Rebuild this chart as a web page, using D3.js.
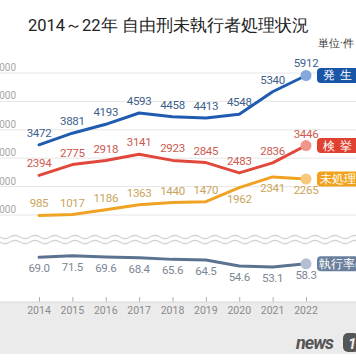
<!DOCTYPE html>
<html><head><meta charset="utf-8">
<script src="https://cdn.jsdelivr.net/npm/d3@7"></script>
<style>
html,body{margin:0;padding:0;background:#fff;}
svg{display:block;}
text{font-family:Roboto,"Noto Sans",sans-serif;}
</style></head>
<body>
<script>
const years = ["2014","2015","2016","2017","2018","2019","2020","2021","2022"];
const occurred = [3472,3881,4193,4593,4458,4413,4548,5340,5912];
const arrested = [2394,2775,2918,3141,2923,2845,2483,2836,3446];
const unresolved = [985,1017,1186,1363,1440,1470,1962,2341,2265];
const execRate = [69.0,71.5,69.6,68.4,65.6,64.5,54.6,53.1,58.3];
const yTicks = [1000,2000,3000,4000,5000,6000];
const seriesNames = ["発生","検挙","未処理","執行率(%)"];

const W=356,H=364;
const svg=d3.select("body").append("svg").attr("width",W).attr("height",H);

// backgrounds
svg.append("rect").attr("x",0).attr("y",0).attr("width",W).attr("height",H).attr("fill","#fff");
svg.append("rect").attr("x",0).attr("y",302).attr("width",W).attr("height",52).attr("fill","#ebebeb");

// title
svg.append("text").attr("x",28).attr("y",31).attr("font-size",16.5).attr("fill","#222")
  .attr("font-family","'Noto Sans CJK JP',sans-serif").text("2014～22年 自由刑未執行者処理状況");
svg.append("text").attr("x",318).attr("y",47).attr("font-size",10.5).attr("fill","#333")
  .attr("font-family","'Noto Sans CJK JP',sans-serif").text("単位·件");

const x=d3.scalePoint().domain(years).range([39,306]);
const y=d3.scaleLinear().domain([1000,6000]).range([215,73]);
const yr=d3.scaleLinear().domain([53.1,69.0]).range([267,257.3]);

// grid
const grid=svg.append("g");
yTicks.forEach(t=>{
  grid.append("line").attr("x1",0).attr("x2",W).attr("y1",y(t)).attr("y2",y(t))
    .attr("stroke","#e6e6e6").attr("stroke-width",1);
  grid.append("text").attr("x",16).attr("y",y(t)-2).attr("text-anchor","end")
    .attr("font-size",10).attr("fill","#a8a8a8").text(t);
});

// wavy break
[237,242].forEach(yy=>{
  const pts=d3.range(0,W+1,1).map(px=>[px,yy+1.6*Math.sin(px/20*2*Math.PI)]);
  svg.append("path").attr("d",d3.line()(pts)).attr("fill","none")
    .attr("stroke","#d2d2d2").attr("stroke-width",1.3);
});

// x axis
const ax=svg.append("g").attr("transform","translate(0,302)")
  .call(d3.axisTop(x).tickSize(5).tickFormat(""));
ax.select(".domain").remove();
ax.selectAll("line").attr("stroke","#b0b0b0");
svg.append("line").attr("x1",0).attr("x2",W).attr("y1",302).attr("y2",302).attr("stroke","#d8d8d8");
svg.append("g").selectAll("text").data(years).join("text")
  .attr("x",d=>x(d)).attr("y",314).attr("text-anchor","middle")
  .attr("font-size",10.5).attr("fill","#8a8a8a").text(d=>d);

function drawSeries(vals, ys, lineCol, lblCol, dotCol, below, fmt){
  const line=d3.line().x((d,i)=>x(years[i])).y(d=>ys(d));
  svg.append("path").datum(vals).attr("d",line).attr("fill","none")
    .attr("stroke",lineCol).attr("stroke-width",3).attr("stroke-linejoin","round").attr("stroke-linecap","round");
  const last=vals.length-1;
  svg.append("circle").attr("cx",x(years[last])).attr("cy",ys(vals[last])).attr("r",5.5).attr("fill",dotCol);
  svg.append("g").selectAll("text").data(vals).join("text")
    .attr("x",(d,i)=>x(years[i])).attr("y",(d,i)=>below(i)?ys(d)+15:ys(d)-8)
    .attr("text-anchor","middle").attr("font-size",11.5).attr("fill",lblCol)
    .attr("letter-spacing",-0.3).text(fmt);
}
drawSeries(occurred,y,"#1f5bb0","#3d5f8c","#86a9dc",()=>false,d=>d);
drawSeries(arrested,y,"#e2473b","#cc5a50","#f0958c",()=>false,d=>d);
drawSeries(unresolved,y,"#f0a223","#c9a45a","#f7c77a",i=>i>=6,d=>d);
drawSeries(execRate,yr,"#5b7391","#7c8694","#b3c0d4",()=>true,d=>d.toFixed(1));

// legend pills
const pills=[
  {name:seriesNames[0],y:y(occurred[8]),col:"#1a56a8",ls:5},
  {name:seriesNames[1],y:y(arrested[8]),col:"#e0402f",ls:5},
  {name:seriesNames[2],y:y(unresolved[8]),col:"#f0a21c",ls:0},
  {name:seriesNames[3],y:yr(execRate[8]),col:"#6a7f9c",ls:0}
];
pills.forEach(p=>{
  svg.append("rect").attr("x",317).attr("y",p.y-7.5).attr("width",44).attr("height",15)
    .attr("rx",4).attr("fill",p.col);
  svg.append("text").attr("x",p.name.length>3?319:(p.ls?323:320)).attr("y",p.y+4)
    .attr("text-anchor","start").attr("letter-spacing",p.ls)
    .attr("font-size",11.5).attr("font-weight",500).attr("fill","#fff")
    .attr("font-family","'Noto Sans CJK JP',sans-serif").text(p.name);
});

// logo
svg.append("text").attr("x",296).attr("y",349).attr("font-size",18).attr("font-weight","bold")
  .attr("font-style","italic").attr("fill","#555").attr("font-family","'DejaVu Sans',sans-serif")
  .attr("letter-spacing",-1).text("news");
svg.append("rect").attr("x",343).attr("y",333).attr("width",16).attr("height",19).attr("rx",5).attr("fill","#555");
svg.append("text").attr("x",348).attr("y",349).attr("font-size",15).attr("font-weight","bold")
  .attr("font-style","italic").attr("fill","#ebebeb").text("1");
</script>
</body></html>
